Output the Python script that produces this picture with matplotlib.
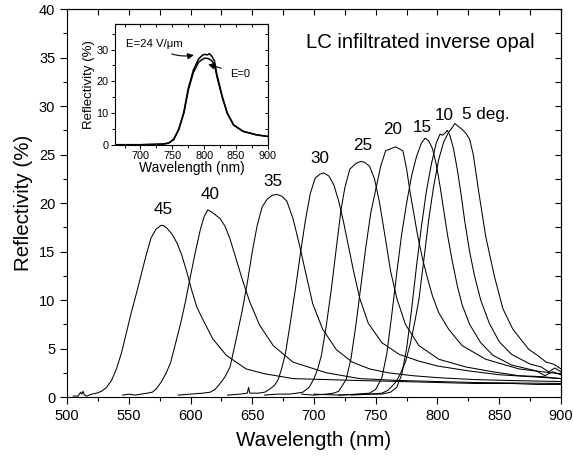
import matplotlib
matplotlib.use("Agg")
import matplotlib.pyplot as plt
from matplotlib.ticker import MultipleLocator

plt.rcParams["font.family"] = ["Liberation Sans", "DejaVu Sans"]

# reflectivity spectra for each incidence angle (deg)
wl_45 = [505, 509, 511, 512, 513, 514, 516, 520, 524, 528, 532, 536, 540, 544, 548, 552, 556, 560, 564, 568,
         572, 576, 578, 581, 585, 589, 593, 597, 601, 605, 610, 618, 629, 645, 660, 683, 710, 737, 770, 800,
         830, 860, 880, 900]
r_45 = [0.1, 0.1, 0.5, 0.3, 0.6, 0.2, 0.1, 0.3, 0.4, 0.6, 1.0, 1.7, 2.9, 4.5, 6.6, 8.7, 10.6, 12.6, 14.6, 16.4,
        17.3, 17.7, 17.7, 17.4, 16.8, 15.9, 14.6, 12.9, 11.0, 9.3, 8.0, 6.0, 4.3, 2.9, 2.4, 1.9, 1.8, 1.7, 1.6, 1.5,
        1.4, 1.4, 1.3, 1.3]

wl_40 = [545, 550, 555, 560, 565, 569, 572, 576, 580, 584, 588, 592, 596, 600, 604, 608, 611, 614, 617, 620,
         624, 628, 632, 637, 642, 648, 656, 667, 683, 710, 737, 770, 800, 830, 860, 900]
r_40 = [0.2, 0.3, 0.2, 0.3, 0.4, 0.5, 0.8, 1.5, 2.4, 3.6, 5.6, 7.6, 9.9, 12.5, 15.0, 17.3, 18.6, 19.3, 19.1, 18.8,
        18.4, 17.6, 16.3, 14.2, 12.1, 9.8, 7.4, 5.3, 3.6, 2.5, 1.9, 1.7, 1.6, 1.5, 1.45, 1.4]

wl_35 = [590, 600, 610, 616, 620, 624, 628, 632, 637, 642, 646, 650, 654, 658, 662, 666, 670, 674, 678, 683,
         688, 694, 699, 707, 718, 731, 745, 760, 780, 800, 830, 860, 900]
r_35 = [0.2, 0.3, 0.4, 0.5, 0.8, 1.4, 2.1, 3.1, 6.0, 9.0, 11.8, 15.0, 17.7, 19.6, 20.4, 20.8, 20.9, 20.7, 20.2, 18.4,
        15.8, 12.4, 9.6, 7.0, 4.9, 3.6, 2.9, 2.5, 2.2, 2.0, 1.8, 1.7, 1.6]

wl_30 = [630, 640, 646, 647, 648, 655, 660, 664, 668, 671, 674, 677, 681, 685, 689, 693, 697, 701, 705, 708,
         712, 716, 720, 724, 728, 732, 737, 744, 755, 769, 785, 800, 825, 850, 875, 900]
r_30 = [0.2, 0.3, 0.4, 1.0, 0.4, 0.4, 0.5, 0.8, 1.2, 1.8, 3.0, 4.6, 7.8, 11.2, 14.8, 18.2, 21.0, 22.6, 23.0, 23.1,
        22.8, 21.9, 20.2, 18.0, 15.5, 13.0, 10.2, 7.6, 5.6, 4.4, 3.7, 3.2, 2.7, 2.3, 2.1, 1.9]

wl_25 = [660, 670, 680, 686, 691, 696, 700, 703, 706, 710, 714, 718, 722, 725, 729, 734, 738, 741, 745, 749,
         753, 758, 762, 767, 774, 785, 801, 823, 845, 866, 885, 900]
r_25 = [0.2, 0.3, 0.3, 0.4, 0.5, 1.0, 1.9, 2.9, 4.3, 7.4, 11.1, 15.3, 19.4, 21.6, 23.5, 24.1, 24.3, 24.2, 23.8, 22.5,
        20.1, 16.2, 13.0, 10.2, 7.5, 5.3, 3.9, 3.1, 2.6, 2.2, 2.1, 1.9]

wl_20 = [690, 700, 710, 716, 720, 726, 730, 734, 738, 742, 746, 750, 754, 758, 762, 766, 769, 772, 775, 778,
         781, 784, 788, 792, 796, 801, 809, 820, 839, 866, 885, 900]
r_20 = [0.3, 0.2, 0.3, 0.4, 0.6, 1.8, 4.0, 7.5, 11.5, 15.5, 19.0, 21.4, 23.8, 25.4, 25.6, 25.8, 25.6, 25.4, 23.5, 21.0,
        18.8, 16.6, 14.2, 12.2, 10.4, 8.7, 7.0, 5.3, 3.9, 2.9, 2.6, 2.4]

wl_15 = [700, 720, 735, 745, 750, 755, 759, 763, 767, 771, 775, 779, 783, 787, 790, 793, 796, 799, 802, 805,
         808, 812, 816, 820, 826, 835, 845, 860, 880, 887, 893, 900]
r_15 = [0.3, 0.2, 0.3, 0.4, 0.8, 2.0, 4.5, 8.5, 12.8, 16.8, 20.0, 22.8, 24.8, 26.2, 26.7, 26.4, 25.6, 24.0, 21.8, 19.3,
        16.8, 14.0, 11.5, 9.5, 7.5, 5.6, 4.3, 3.3, 2.7, 2.2, 2.6, 2.3]

wl_10 = [720, 740, 755, 762, 767, 771, 775, 779, 783, 787, 791, 795, 799, 802, 804, 806, 808, 810, 813, 816,
         819, 822, 826, 830, 835, 842, 850, 860, 875, 884, 890, 895, 900]
r_10 = [0.2, 0.3, 0.3, 0.5, 1.0, 2.3, 5.0, 9.0, 13.5, 17.6, 21.2, 24.0, 26.2, 27.1, 27.0, 27.2, 27.5, 27.0, 25.6, 23.5,
        21.0, 18.2, 15.0, 12.5, 10.0, 7.6, 5.7, 4.4, 3.4, 3.1, 2.6, 3.0, 2.6]

wl_5 = [730, 745, 755, 760, 766, 770, 774, 778, 782, 785, 789, 793, 797, 801, 805, 809, 812, 814, 817, 820,
        823, 826, 829, 833, 839, 846, 853, 861, 874, 881, 888, 894, 900]
r_5 = [0.2, 0.3, 0.4, 0.7, 1.5, 2.4, 3.6, 5.5, 8.0, 10.1, 14.2, 18.4, 21.8, 24.5, 26.3, 27.3, 27.8, 28.2, 27.9, 27.6,
       27.2, 26.6, 25.0, 21.5, 16.6, 12.5, 9.1, 7.0, 4.9, 4.3, 3.6, 3.4, 2.9]

curves = [(wl_45, r_45), (wl_40, r_40), (wl_35, r_35), (wl_30, r_30), (wl_25, r_25),
          (wl_20, r_20), (wl_15, r_15), (wl_10, r_10), (wl_5, r_5)]

angle_labels = ["45", "40", "35", "30", "25", "20", "15", "10", "5 deg."]
label_x = [577.5, 615.5, 667, 704.5, 739, 764, 787.5, 805.5, 839]
label_y = [19.3, 20.9, 22.2, 24.6, 25.9, 27.6, 27.8, 29.0, 29.1]

# inset: 5 deg spectrum with and without field
inset_wl = [660, 680, 700, 720, 735, 744, 752, 760, 768, 775, 783, 791, 797, 801, 805, 808, 812, 816, 820, 828,
            836, 846, 861, 882, 900]
inset_r0 = [0.1, 0.1, 0.1, 0.2, 0.3, 0.6, 1.7, 4.8, 10.0, 17.3, 22.8, 26.0, 26.9, 27.3, 27.2, 27.0, 26.4, 25.2, 21.4,
            15.2, 10.0, 6.3, 4.3, 3.2, 2.7]
inset_r24 = [0.1, 0.1, 0.1, 0.2, 0.3, 0.6, 1.8, 5.0, 10.4, 17.8, 23.6, 27.0, 28.2, 28.5, 28.3, 28.7, 27.9, 26.4, 22.0,
             15.4, 10.1, 6.3, 4.3, 3.2, 2.7]

fig = plt.figure(figsize=(5.73, 4.59), dpi=100)
ax = fig.add_axes([0.117, 0.135, 0.862, 0.845])

for wl, r in curves:
    ax.plot(wl, r, color="black", linewidth=0.75)

for lab, x, y in zip(angle_labels, label_x, label_y):
    ax.text(x, y, lab, ha="center", va="center", fontsize=12.3)

ax.text(693.5, 36.6, "LC infiltrated inverse opal", ha="left", va="center", fontsize=14.6)

ax.set_xlim(500, 900)
ax.set_ylim(0, 40)
ax.xaxis.set_major_locator(MultipleLocator(50))
ax.xaxis.set_minor_locator(MultipleLocator(25))
ax.yaxis.set_major_locator(MultipleLocator(5))
ax.yaxis.set_minor_locator(MultipleLocator(2.5))
ax.tick_params(which="major", direction="out", length=5, width=0.8, labelsize=10.5)
ax.tick_params(which="minor", direction="out", length=3, width=0.8)
ax.set_xlabel("Wavelength (nm)", fontsize=14.8, labelpad=6)
ax.set_ylabel("Reflectivity (%)", fontsize=14.8, labelpad=4)

top = ax.secondary_xaxis("top")
top.xaxis.set_major_locator(MultipleLocator(50))
top.xaxis.set_minor_locator(MultipleLocator(25))
top.tick_params(which="both", direction="in", labeltop=False, length=4, width=0.8)
right = ax.secondary_yaxis("right")
right.yaxis.set_major_locator(MultipleLocator(5))
right.yaxis.set_minor_locator(MultipleLocator(2.5))
right.tick_params(which="both", direction="in", labelright=False, length=4, width=0.8)

# inset
ins = fig.add_axes([0.2007, 0.684, 0.267, 0.2636])
ins.plot(inset_wl, inset_r0, color="black", linewidth=1.1)
ins.plot(inset_wl, inset_r24, color="black", linewidth=1.1)
ins.set_xlim(660, 900)
ins.set_ylim(0, 38)
ins.xaxis.set_major_locator(MultipleLocator(50))
ins.xaxis.set_minor_locator(MultipleLocator(25))
ins.yaxis.set_major_locator(MultipleLocator(10))
ins.yaxis.set_minor_locator(MultipleLocator(5))
ins.tick_params(which="major", direction="out", length=3, width=0.7, labelsize=7.8, pad=1.5)
ins.tick_params(which="minor", direction="out", length=2, width=0.7)
ins.set_xticks([700, 750, 800, 850, 900])
ins.set_xlabel("Wavelength (nm)", fontsize=10, labelpad=0)
ins.set_ylabel("Reflectivity (%)", fontsize=9.5, labelpad=1)
itop = ins.secondary_xaxis("top")
itop.xaxis.set_major_locator(MultipleLocator(50))
itop.xaxis.set_minor_locator(MultipleLocator(25))
itop.tick_params(which="both", direction="in", labeltop=False, length=2.5, width=0.7)
iright = ins.secondary_yaxis("right")
iright.yaxis.set_major_locator(MultipleLocator(5))
iright.tick_params(which="both", direction="in", labelright=False, length=2.5, width=0.7)

ins.annotate("E=24 V/\u03bcm", xy=(788, 28.4), xytext=(722, 31.7), fontsize=8.2,
             ha="center", va="center",
             arrowprops=dict(arrowstyle="-|>", color="black", lw=0.8, mutation_scale=9,
                             shrinkA=4, connectionstyle="arc3,rad=0.25"))
ins.annotate("E=0", xy=(802, 25.6), xytext=(857, 22.3), fontsize=8,
             ha="center", va="center",
             arrowprops=dict(arrowstyle="-|>", color="black", lw=0.8, mutation_scale=9,
                             shrinkA=5, connectionstyle="arc3,rad=0.0"))

fig.savefig("out.png", dpi=100)
